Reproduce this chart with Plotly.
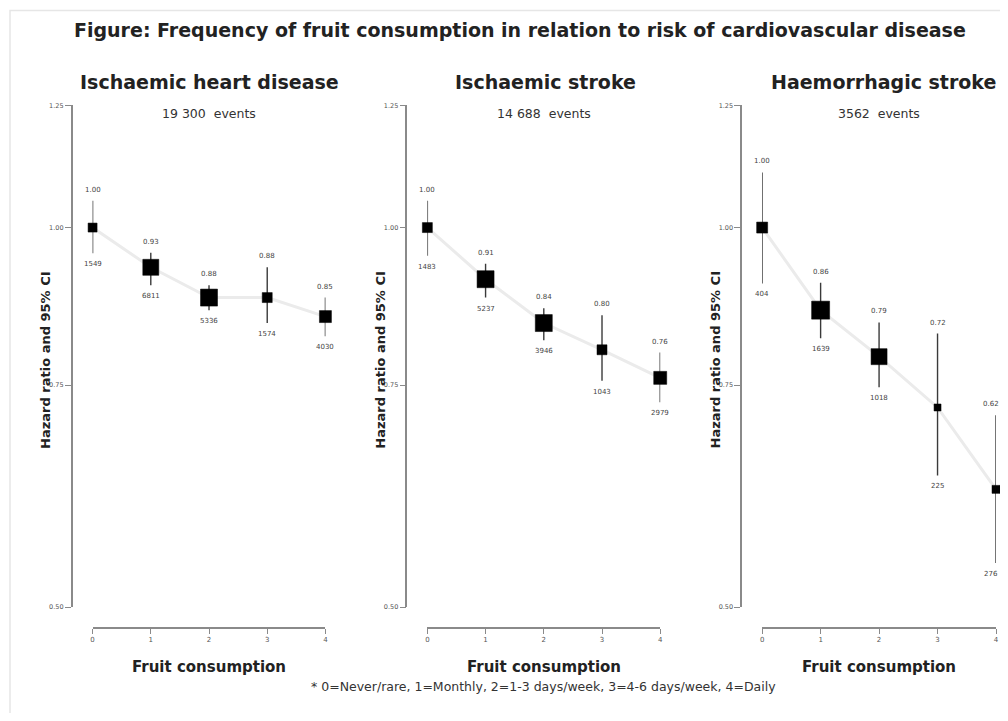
import math
import plotly.graph_objects as go

# ---------------- data ----------------
categories = [0, 1, 2, 3, 4]
tick_labels = ["0", "1", "2", "3", "4"]
panel_titles = ["Ischaemic heart disease", "Ischaemic stroke", "Haemorrhagic stroke"]
event_totals = ["19 300", "14 688", "3562"]

ihd_hr = [1.00, 0.93, 0.88, 0.88, 0.85]
ihd_lo = [0.954, 0.90, 0.86, 0.84, 0.82]
ihd_hi = [1.05, 0.955, 0.90, 0.93, 0.88]
ihd_events = [1549, 6811, 5336, 1574, 4030]

isc_hr = [1.00, 0.91, 0.84, 0.80, 0.76]
isc_lo = [0.95, 0.88, 0.814, 0.756, 0.727]
isc_hi = [1.05, 0.936, 0.863, 0.852, 0.796]
isc_events = [1483, 5237, 3946, 1043, 2979]

hae_hr = [1.00, 0.86, 0.79, 0.72, 0.62]
hae_lo = [0.903, 0.817, 0.747, 0.636, 0.542]
hae_hi = [1.106, 0.904, 0.841, 0.824, 0.71]
hae_events = [404, 1639, 1018, 225, 276]

y_ticks = [0.50, 0.75, 1.00, 1.25]
y_tick_labels = ["0.50", "0.75", "1.00", "1.25"]

x_title = "Fruit consumption"
y_title = "Hazard ratio and 95% CI"
main_title = "Figure: Frequency of fruit consumption in relation to risk of cardiovascular disease"
footnote = "* 0=Never/rare, 1=Monthly, 2=1-3 days/week, 3=4-6 days/week, 4=Daily"

# ---------------- style / layout ----------------
square_sizes = [[9, 16, 17, 10, 12], [10, 17, 17, 10, 13], [11, 18, 16, 7, 8]]
label_xshift = [[0, 0, 0, 0, 0], [0, 0, 0, 0, 0], [0, 0, 0, 0, -5]]   # keep edge labels inside
FONT = "DejaVu Sans, Verdana, sans-serif"
OFF = 8                      # default body margin of the html page
W, H = 1008 - 2 * OFF, 721 - 2 * OFF
yaxis_px = [71, 406, 741]
x0_px = [92, 427, 762]
x1_px = [325, 660, 996]
title_cx_px = [209, 545, 883]
ytop_px, ybot_px = 105, 607
xaxis_line_px = 628

panels = [
    (ihd_hr, ihd_lo, ihd_hi, ihd_events),
    (isc_hr, isc_lo, isc_hi, isc_events),
    (hae_hr, hae_lo, hae_hi, hae_events),
]


def tx(p):
    return (p - 1.4) / 0.9956


def ty(p):
    return (p - 3.7) / 0.989


def fx(p):
    return (tx(p) - OFF) / W


def fy(p):
    return 1 - (ty(p) - OFF) / H


fig = go.Figure()
annotations = []
label_font = dict(size=7, color="#444", family=FONT)

for i, (hr, lo, hi, ev) in enumerate(panels):
    sfx = "" if i == 0 else str(i + 1)
    xa, ya = "x" + sfx, "y" + sfx
    # connecting line
    fig.add_trace(go.Scatter(x=categories, y=hr, mode="lines", xaxis=xa, yaxis=ya,
                             line=dict(color="#ebebeb", width=3), hoverinfo="skip",
                             showlegend=False, cliponaxis=False))
    # squares with CI
    fig.add_trace(go.Scatter(
        x=categories, y=hr, mode="markers", xaxis=xa, yaxis=ya, showlegend=False,
        marker=dict(symbol="square", size=square_sizes[i], color="black", opacity=1,
                    line=dict(width=0.5, color="black")),
        error_y=dict(type="data", symmetric=False,
                     array=[h - m for h, m in zip(hi, hr)],
                     arrayminus=[m - l for m, l in zip(hr, lo)],
                     color="#3a3a3a", thickness=1.4, width=0),
        cliponaxis=False))
    # HR labels above the CI, event counts below it
    for j, c in enumerate(categories):
        annotations.append(dict(text=f"{hr[j]:.2f}", x=c, y=math.log10(hi[j]), xref=xa, yref=ya,
                                showarrow=False, font=label_font, xanchor="center",
                                yanchor="middle", yshift=11, xshift=label_xshift[i][j]))
        annotations.append(dict(text=str(ev[j]), x=c, y=math.log10(lo[j]), xref=xa, yref=ya,
                                showarrow=False, font=label_font, xanchor="center",
                                yanchor="middle", yshift=-11, xshift=label_xshift[i][j]))

    xaxis_cfg = dict(domain=[fx(x0_px[i]), fx(x1_px[i])], range=[0, 4], anchor="free",
                     position=fy(xaxis_line_px), showline=True, linecolor="#8a8a8a", linewidth=1.5,
                     ticks="outside", ticklen=5, tickcolor="#8a8a8a", tickwidth=1.2,
                     tickvals=categories, ticktext=tick_labels, showgrid=False, zeroline=False,
                     tickfont=dict(size=7, color="#555", family=FONT), fixedrange=True)
    yaxis_cfg = dict(domain=[fy(ybot_px), fy(ytop_px)], type="log",
                     range=[math.log10(0.5), math.log10(1.25)], anchor="free",
                     position=fx(yaxis_px[i]), showline=True, linecolor="#8a8a8a", linewidth=1.5,
                     ticks="outside", ticklen=6, tickcolor="#8a8a8a", tickwidth=1.2,
                     tickvals=y_ticks, ticktext=y_tick_labels, showgrid=False, zeroline=False,
                     tickfont=dict(size=6.5, color="#555", family=FONT), fixedrange=True)
    fig.update_layout(**{"xaxis" + sfx: xaxis_cfg, "yaxis" + sfx: yaxis_cfg})

    cx = (x0_px[i] + x1_px[i]) / 2
    annotations.append(dict(text="<b>" + panel_titles[i] + "</b>", x=fx(title_cx_px[i]), y=fy(82),
                            xref="paper", yref="paper", showarrow=False,
                            font=dict(size=19, color="#222", family=FONT),
                            xanchor="center", yanchor="middle"))
    annotations.append(dict(text=event_totals[i] + "&nbsp;&nbsp;events", x=fx(cx), y=fy(113),
                            xref="paper", yref="paper", showarrow=False,
                            font=dict(size=12.5, color="#333", family=FONT),
                            xanchor="center", yanchor="middle"))
    annotations.append(dict(text="<b>" + y_title + "</b>", x=fx(yaxis_px[i] - 26), y=fy(360),
                            xref="paper", yref="paper", showarrow=False, textangle=-90,
                            font=dict(size=13, color="#222", family=FONT),
                            xanchor="center", yanchor="middle"))
    annotations.append(dict(text="<b>" + x_title + "</b>", x=fx(cx), y=fy(667),
                            xref="paper", yref="paper", showarrow=False,
                            font=dict(size=15, color="#222", family=FONT),
                            xanchor="center", yanchor="middle"))

annotations.append(dict(text="<b>" + main_title + "</b>", x=fx(520), y=fy(30),
                        xref="paper", yref="paper", showarrow=False,
                        font=dict(size=19, color="#222", family=FONT),
                        xanchor="center", yanchor="middle"))
annotations.append(dict(text=footnote, x=fx(543), y=fy(686),
                        xref="paper", yref="paper", showarrow=False,
                        font=dict(size=12.5, color="#333", family=FONT),
                        xanchor="center", yanchor="middle"))

fig.update_layout(
    width=W, height=H, margin=dict(l=0, r=0, t=0, b=0),
    paper_bgcolor="white", plot_bgcolor="white",
    annotations=annotations, showlegend=False,
    font=dict(family=FONT),
    shapes=[dict(type="rect", xref="paper", yref="paper", x0=0.0, x1=1.02, y0=-0.02, y1=fy(10),
                 line=dict(color="#e6e6e6", width=1.5), fillcolor="rgba(0,0,0,0)", layer="below")],
)

fig.write_html("out.html")
